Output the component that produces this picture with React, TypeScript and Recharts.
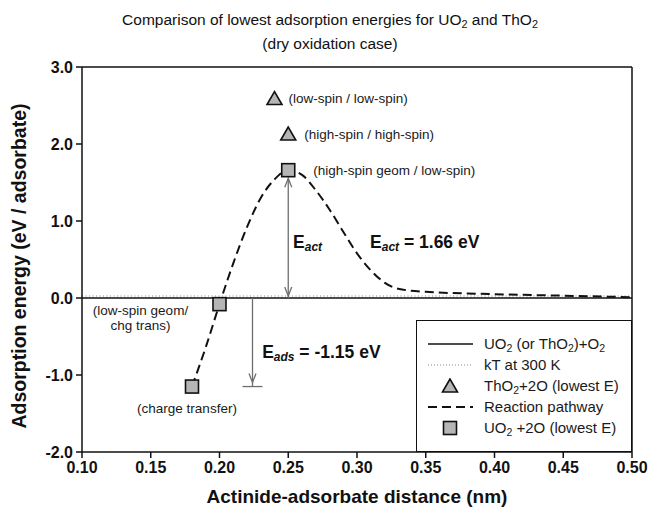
import React from 'react';
import {
  ComposedChart,
  Line,
  Scatter,
  XAxis,
  YAxis,
  ReferenceLine,
  ReferenceDot,
  Legend,
} from 'recharts';

// Reaction pathway (dashed curve), energy vs. actinide-adsorbate distance
const pathwayDistance = [0.18, 0.19, 0.2, 0.21, 0.22, 0.23, 0.24, 0.25, 0.26, 0.27, 0.28, 0.29, 0.3, 0.31, 0.32, 0.33, 0.35, 0.4, 0.45, 0.5];
const pathwayEnergy = [-1.15, -0.64, -0.08, 0.45, 0.92, 1.3, 1.54, 1.66, 1.6, 1.4, 1.15, 0.86, 0.58, 0.36, 0.2, 0.12, 0.08, 0.05, 0.03, 0.01];

// UO2 + 2O lowest-energy configurations (squares)
const uo2Distance = [0.18, 0.2, 0.25];
const uo2Energy = [-1.15, -0.08, 1.66];
const uo2Notes = ['(charge transfer)', '(low-spin geom/|chg trans)', '(high-spin geom / low-spin)'];

// ThO2 + 2O lowest-energy configurations (triangles)
const tho2Distance = [0.24, 0.25];
const tho2Energy = [2.59, 2.13];
const tho2Notes = ['(low-spin / low-spin)', '(high-spin / high-spin)'];

// reference levels
const xRange = [0.1, 0.5];
const baseEnergy = 0;
const kT300 = 0.026;

const E_ACT = 1.66;
const E_ADS = -1.15;
const actDistance = 0.25;
const adsDistance = 0.224;

const xTicks = [0.1, 0.15, 0.2, 0.25, 0.3, 0.35, 0.4, 0.45, 0.5];
const yTicks = [-2, -1, 0, 1, 2, 3];

const toPoints = (xs: number[], ys: number[]) => xs.map((x, i) => ({ x, y: ys[i] }));

const pathway = toPoints(pathwayDistance, pathwayEnergy);
const uo2 = toPoints(uo2Distance, uo2Energy);
const tho2 = toPoints(tho2Distance, tho2Energy);
const baseline = toPoints(xRange, [baseEnergy, baseEnergy]);
const kTLine = toPoints(xRange, [kT300, kT300]);

const FONT = '"Liberation Sans", Arial, Helvetica, sans-serif';
const MARKER_FILL = '#b5b5b5';
const ARROW = '#6e6e6e';

// where each note sits relative to its marker (px)
const uo2NoteOffsets = [
  { dx: -5, dy: 22, anchor: 'middle' },
  { dx: -79, dy: 6, anchor: 'middle' },
  { dx: 25, dy: 0, anchor: 'start' },
];
const tho2NoteOffsets = [
  { dx: 14, dy: 0, anchor: 'start' },
  { dx: 16, dy: 0, anchor: 'start' },
];

const SquareMark = (props: any) => {
  const { cx, cy } = props;
  return <rect x={cx - 6.5} y={cy - 6.5} width={13} height={13} fill={MARKER_FILL} stroke="#111" strokeWidth={1.6} />;
};

const TriangleMark = (props: any) => {
  const { cx, cy } = props;
  return (
    <polygon
      points={`${cx},${cy - 7} ${cx - 7.5},${cy + 6} ${cx + 7.5},${cy + 6}`}
      fill={MARKER_FILL}
      stroke="#111"
      strokeWidth={1.6}
      strokeLinejoin="miter"
    />
  );
};

const noteShape = (text: string, dx: number, dy: number, anchor: string) => (props: any) => {
  const { cx, cy } = props;
  const lines = text.split('|');
  return (
    <text x={cx + dx} y={cy + dy} textAnchor={anchor} fontSize={13.5} fill="#1a1a1a" fontFamily={FONT}>
      {lines.map((l, i) => (
        <tspan key={i} x={cx + dx} dy={i === 0 ? '0.35em' : 15}>
          {l}
        </tspan>
      ))}
    </text>
  );
};

// "E<sub>name</sub> = value eV" drawn as svg text
const energyLabel = (name: string, value?: number) => (props: any) => {
  const { cx, cy } = props;
  return (
    <text x={cx} y={cy} fontSize={17.5} fontWeight={700} fill="#111" fontFamily={FONT} dominantBaseline="central">
      <tspan>E</tspan>
      <tspan fontSize={12} fontStyle="italic" dy={5}>
        {name}
      </tspan>
      {value !== undefined && <tspan dy={-5}>{` = ${value.toFixed(2)} eV`}</tspan>}
    </text>
  );
};

// vertical arrow with open heads; bar draws a stop line at the far end
const arrowShape = (bothEnds: boolean, padEnd: number, bar: boolean) => (props: any) => {
  const { x1, y1, x2, y2 } = props;
  const dir = y2 < y1 ? -1 : 1;
  const tipEnd = y2 - dir * padEnd;
  const tipStart = y1 + dir * 2;
  const h = 9;
  const w = 3.5;
  return (
    <g stroke={ARROW} strokeWidth={1.3} fill="none">
      <line x1={x1} y1={y1} x2={x2} y2={y2 - dir * (bar ? 0 : padEnd)} />
      <polyline points={`${x2 - w},${tipEnd - dir * h} ${x2},${tipEnd} ${x2 + w},${tipEnd - dir * h}`} />
      {bothEnds && <polyline points={`${x1 - w},${tipStart + dir * h} ${x1},${tipStart} ${x1 + w},${tipStart + dir * h}`} />}
      {bar && <line x1={x2 - 10} y1={y2} x2={x2 + 10} y2={y2} />}
    </g>
  );
};

function Sub({ children }: { children: React.ReactNode }) {
  return <span style={{ fontSize: '0.7em', verticalAlign: '-0.3em', lineHeight: 0 }}>{children}</span>;
}

const legendRows = [
  { key: 'base', label: <>UO<Sub>2</Sub> (or ThO<Sub>2</Sub>)+O<Sub>2</Sub></> },
  { key: 'kt', label: <>kT at 300 K</> },
  { key: 'tri', label: <>ThO<Sub>2</Sub>+2O (lowest E)</> },
  { key: 'dash', label: <>Reaction pathway</> },
  { key: 'sq', label: <>UO<Sub>2</Sub> +2O (lowest E)</> },
];

function LegendSample({ kind }: { kind: string }) {
  return (
    <svg width={46} height={16} style={{ display: 'block' }}>
      {kind === 'base' && <line x1={1} y1={8} x2={46} y2={8} stroke="#111" strokeWidth={1.3} />}
      {kind === 'kt' && <line x1={1} y1={8} x2={46} y2={8} stroke="#888" strokeWidth={1} strokeDasharray="1 2" />}
      {kind === 'dash' && <line x1={1} y1={8} x2={46} y2={8} stroke="#111" strokeWidth={2} strokeDasharray="9 5" />}
      {kind === 'tri' && <TriangleMark cx={23} cy={8} />}
      {kind === 'sq' && <SquareMark cx={23} cy={8} />}
    </svg>
  );
}

function LegendBox() {
  return (
    <div
      style={{
        width: 216,
        height: 132,
        boxSizing: 'border-box',
        border: '1px solid #111',
        background: '#fff',
        padding: '12px 0 0 10px',
        fontFamily: FONT,
        fontSize: 15,
        color: '#1a1a1a',
      }}
    >
      {legendRows.map((r) => (
        <div key={r.key} style={{ display: 'flex', alignItems: 'center', height: 21 }}>
          <LegendSample kind={r.key} />
          <span style={{ marginLeft: 11, whiteSpace: 'nowrap' }}>{r.label}</span>
        </div>
      ))}
    </div>
  );
}

export default function App() {
  return (
    <div style={{ position: 'absolute', left: 0, top: 0, width: 654, height: 511, background: '#fff', fontFamily: FONT }}>
      <ComposedChart width={654} height={511} margin={{ top: 67, right: 22, bottom: 29, left: 22 }}>
        <XAxis
          type="number"
          dataKey="x"
          domain={xRange}
          ticks={xTicks}
          allowDataOverflow
          tickFormatter={(v: number) => v.toFixed(2)}
          tick={{ fill: '#111', fontSize: 16, fontWeight: 700 }}
          tickSize={6}
          tickMargin={4}
          axisLine={{ stroke: '#111', strokeWidth: 1.5 }}
          tickLine={{ stroke: '#111', strokeWidth: 1.5 }}
          height={30}
        />
        <YAxis
          type="number"
          dataKey="y"
          domain={[-2, 3]}
          ticks={yTicks}
          allowDataOverflow
          tickFormatter={(v: number) => v.toFixed(1)}
          tick={{ fill: '#111', fontSize: 16, fontWeight: 700 }}
          tickSize={6}
          tickMargin={3}
          axisLine={{ stroke: '#111', strokeWidth: 1.5 }}
          tickLine={{ stroke: '#111', strokeWidth: 1.5 }}
          width={60}
        />
        {/* frame: top and right edges */}
        <ReferenceLine y={3} stroke="#111" strokeWidth={1.5} />
        <ReferenceLine x={0.5} stroke="#111" strokeWidth={1.5} />

        <Line data={kTLine} dataKey="y" stroke="#8a8a8a" strokeWidth={1} strokeDasharray="1 2.5" dot={false} isAnimationActive={false} />
        <Line data={baseline} dataKey="y" stroke="#111" strokeWidth={1.3} dot={false} isAnimationActive={false} />

        <ReferenceLine
          segment={[{ x: actDistance, y: 0 }, { x: actDistance, y: E_ACT }]}
          shape={arrowShape(true, 8, false)}
        />
        <ReferenceLine
          segment={[{ x: adsDistance, y: 0 }, { x: adsDistance, y: E_ADS }]}
          shape={arrowShape(false, 4, true)}
        />

        <Line
          data={pathway}
          dataKey="y"
          type="monotone"
          stroke="#111"
          strokeWidth={2}
          strokeDasharray="9 5"
          dot={false}
          isAnimationActive={false}
        />
        <Scatter data={uo2} shape={SquareMark} isAnimationActive={false} />
        <Scatter data={tho2} shape={TriangleMark} isAnimationActive={false} />

        {uo2.map((p, i) => (
          <ReferenceDot
            key={`u${i}`}
            x={p.x}
            y={p.y}
            r={0}
            shape={noteShape(uo2Notes[i], uo2NoteOffsets[i].dx, uo2NoteOffsets[i].dy, uo2NoteOffsets[i].anchor)}
          />
        ))}
        {tho2.map((p, i) => (
          <ReferenceDot
            key={`t${i}`}
            x={p.x}
            y={p.y}
            r={0}
            shape={noteShape(tho2Notes[i], tho2NoteOffsets[i].dx, tho2NoteOffsets[i].dy, tho2NoteOffsets[i].anchor)}
          />
        ))}

        <ReferenceDot x={0.2535} y={0.73} r={0} shape={energyLabel('act')} />
        <ReferenceDot x={0.3095} y={0.73} r={0} shape={energyLabel('act', E_ACT)} />
        <ReferenceDot x={0.231} y={-0.7} r={0} shape={energyLabel('ads', E_ADS)} />

        <Legend
          layout="vertical"
          align="center"
          verticalAlign="middle"
          wrapperStyle={{ left: 416, top: 320, width: 216, height: 132, right: 'auto', bottom: 'auto' }}
          content={() => <LegendBox />}
        />
      </ComposedChart>

      <div
        style={{
          position: 'absolute',
          left: 0,
          top: 8,
          width: 660,
          textAlign: 'center',
          fontSize: 15.5,
          lineHeight: '24px',
          color: '#111',
        }}
      >
        Comparison of lowest adsorption energies for UO<Sub>2</Sub> and ThO<Sub>2</Sub>
        <br />
        (dry oxidation case)
      </div>
      <div
        style={{
          position: 'absolute',
          left: 357,
          top: 497,
          transform: 'translate(-50%, -50%)',
          fontSize: 19,
          fontWeight: 700,
          whiteSpace: 'nowrap',
          color: '#111',
        }}
      >
        Actinide-adsorbate distance (nm)
      </div>
      <div
        style={{
          position: 'absolute',
          left: 19,
          top: 266,
          transform: 'translate(-50%, -50%) rotate(-90deg)',
          fontSize: 19.5,
          fontWeight: 700,
          whiteSpace: 'nowrap',
          color: '#111',
        }}
      >
        Adsorption energy (eV / adsorbate)
      </div>
    </div>
  );
}
